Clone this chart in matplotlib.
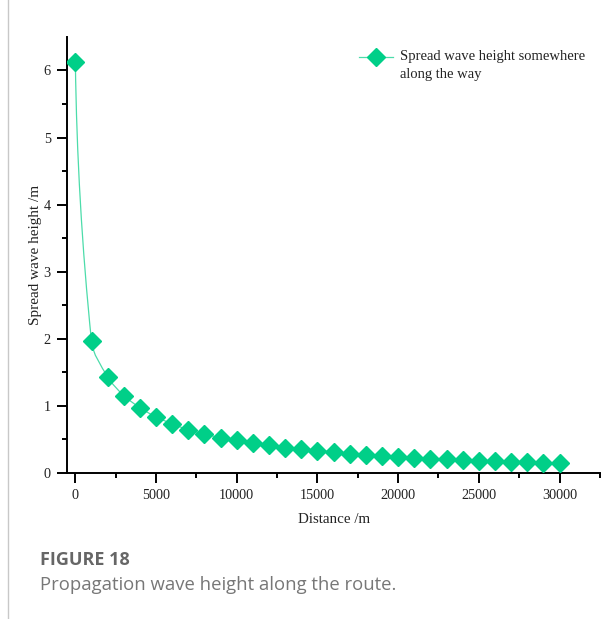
import numpy as np
import matplotlib
matplotlib.use('Agg')
import matplotlib.pyplot as plt
from matplotlib.lines import Line2D
from matplotlib.path import Path
from matplotlib.patches import PathPatch

distance = np.arange(0, 31000, 1000)
wave_height = [6.13, 1.96, 1.43, 1.15, 0.97, 0.83, 0.73, 0.64, 0.58, 0.52,
               0.49, 0.44, 0.41, 0.37, 0.35, 0.33, 0.31, 0.28, 0.27, 0.25,
               0.23, 0.22, 0.21, 0.20, 0.19, 0.18, 0.17, 0.16, 0.155, 0.15,
               0.14]
x_ticks = [0, 5000, 10000, 15000, 20000, 25000, 30000]
y_ticks = [0, 1, 2, 3, 4, 5, 6]
legend_label = ['Spread wave height somewhere', 'along the way']

GREEN = '#00cf88'
LINE_GREEN = '#4cdcaa'
SERIF = 'Liberation Serif'


def smooth_path(ax, x, y):
    ''' Bezier path through the points, tangents built in screen space '''
    pts = ax.transData.transform(np.column_stack([x, y]))
    n = len(pts)
    tang = np.zeros_like(pts)
    for i in range(1, n - 1):
        d = pts[i + 1] - pts[i - 1]
        tang[i] = d / np.hypot(*d)
    u0 = (pts[1] - pts[0]) / np.hypot(*(pts[1] - pts[0]))
    tang[0] = 2 * u0 - tang[1]
    un = (pts[-1] - pts[-2]) / np.hypot(*(pts[-1] - pts[-2]))
    tang[-1] = 2 * un - tang[-2]
    verts = [pts[0]]
    codes = [Path.MOVETO]
    for i in range(n - 1):
        L = np.hypot(*(pts[i + 1] - pts[i]))
        verts += [pts[i] + tang[i] * L / 3, pts[i + 1] - tang[i + 1] * L / 3,
                  pts[i + 1]]
        codes += [Path.CURVE4] * 3
    return Path(verts, codes)


fig = plt.figure(figsize=(6.14, 6.19), dpi=100)
ax = fig.add_axes([0.1096, 0.2364, 0.8674, 0.7039])
ax.set_xlim(-500, 32500)
ax.set_ylim(0, 6.5)

path = smooth_path(ax, distance, wave_height)
ax.add_patch(PathPatch(path, transform=None, fill=False, ec=LINE_GREEN,
                       lw=0.9, zorder=2))
ax.plot(distance, wave_height, ls='none', marker='D', ms=9.5,
        color=GREEN, mec=GREEN, zorder=3)

for side in ('top', 'right'):
    ax.spines[side].set_visible(False)
for side in ('left', 'bottom'):
    ax.spines[side].set_linewidth(1.4)

ax.set_xticks(x_ticks)
ax.set_xticks(np.arange(2500, 32501, 5000), minor=True)
ax.set_yticks(y_ticks)
ax.set_yticks(np.arange(0.5, 6.5, 1), minor=True)
ax.tick_params(which='major', direction='out', length=7, width=1.4,
               labelsize=10.3, pad=5)
ax.tick_params(which='minor', direction='out', length=3.6, width=1.4)
for lab in ax.get_xticklabels() + ax.get_yticklabels():
    lab.set_fontfamily(SERIF)
    lab.set_color('#222222')

ax.set_xlabel('Distance /m', fontfamily=SERIF, fontsize=10.8, labelpad=8,
              color='#222222')
ax.set_ylabel('Spread wave height /m', fontfamily=SERIF, fontsize=11,
              labelpad=1, color='#222222')

# legend drawn by hand so the marker sits on the first line
ax.plot([0.5477, 0.6115], [0.954, 0.954], transform=ax.transAxes,
        color=LINE_GREEN, lw=0.9, clip_on=False)
ax.plot([0.5796], [0.954], transform=ax.transAxes, marker='D', ms=9.5,
        color=GREEN, clip_on=False)
ax.text(0.6246, 0.954, legend_label[0], transform=ax.transAxes,
        fontfamily=SERIF, fontsize=10.5, va='center', color='#222222')
ax.text(0.6246, 0.913, legend_label[1], transform=ax.transAxes,
        fontfamily=SERIF, fontsize=10.5, va='center', color='#222222')

fig.add_artist(Line2D([8 / 614, 8 / 614], [0, 1], color='#c8c8c8', lw=1,
                      transform=fig.transFigure))
fig.text(40 / 614, 1 - 560 / 619, 'FIGURE 18', fontfamily='Open Sans',
         fontweight='bold', fontsize=13, color='#666666', va='center')
fig.text(40 / 614, 1 - 585 / 619, 'Propagation wave height along the route.',
         fontfamily='Open Sans', fontsize=13.3, color='#777777', va='center')

fig.savefig('out.png', dpi=100)
